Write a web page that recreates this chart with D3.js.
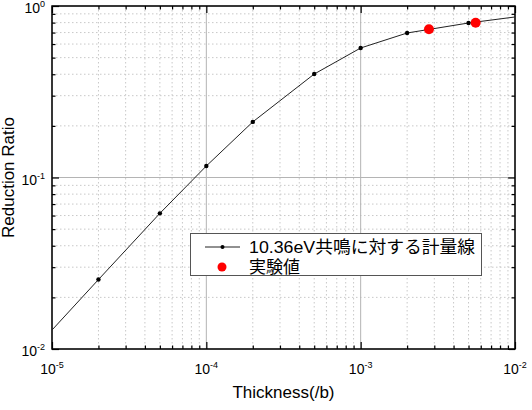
<!DOCTYPE html>
<html>
<head>
<meta charset="utf-8">
<script src="https://cdn.jsdelivr.net/npm/d3@7"></script>
<style>
html,body{margin:0;padding:0;background:#fff;}
svg{display:block;}
</style>
</head>
<body>
<svg id="chart" width="532" height="410"></svg>
<script>
// ---- data ----
const calcThickness = [1e-5, 2e-5, 5e-5, 1e-4, 2e-4, 5e-4, 1e-3, 2e-3, 5e-3, 1e-2];
const calcRatio     = [0.0129, 0.0254, 0.0618, 0.1167, 0.211, 0.401, 0.569, 0.696, 0.796, 0.863];
const expThickness  = [2.77e-3, 5.56e-3];
const expRatio      = [0.731, 0.799];
const xTickExps = [-5, -4, -3, -2];
const yTickExps = [-2, -1, 0];
const seriesNames = ["10.36eV共鳴に対する計量線", "実験値"];
const xTitle = "Thickness(/b)";
const yTitle = "Reduction Ratio";

// ---- layout ----
const L = 52, R = 515, T = 6, B = 349;
const svg = d3.select("#chart");
const x = d3.scaleLog().domain([1e-5, 1e-2]).range([L, R]);
const y = d3.scaleLog().domain([1e-2, 1]).range([B, T]);

const latin = "'Liberation Sans', Arial, sans-serif";
const cjk = "'Liberation Sans', 'Noto Sans CJK JP', sans-serif";

const xMinor = [], yMinor = [];
for (let e = -5; e < -2; e++) for (let m = 2; m <= 9; m++) xMinor.push(m * Math.pow(10, e));
for (let e = -2; e < 0; e++) for (let m = 2; m <= 9; m++) yMinor.push(m * Math.pow(10, e));
const xMajor = xTickExps.map(e => Math.pow(10, e));
const yMajor = yTickExps.map(e => Math.pow(10, e));

const grid = svg.append("g");
grid.selectAll(".xm").data(xMinor).join("line")
  .attr("x1", d => x(d)).attr("x2", d => x(d)).attr("y1", T).attr("y2", B)
  .attr("stroke", "#c8c8c8").attr("stroke-width", 1).attr("stroke-dasharray", "1.5,2.5");
grid.selectAll(".ym").data(yMinor).join("line")
  .attr("y1", d => y(d)).attr("y2", d => y(d)).attr("x1", L).attr("x2", R)
  .attr("stroke", "#c8c8c8").attr("stroke-width", 1).attr("stroke-dasharray", "1.5,2.5");
grid.selectAll(".xM").data(xMajor).join("line")
  .attr("x1", d => x(d)).attr("x2", d => x(d)).attr("y1", T).attr("y2", B)
  .attr("stroke", "#b4b4b4").attr("stroke-width", 1);
grid.selectAll(".yM").data(yMajor).join("line")
  .attr("y1", d => y(d)).attr("y2", d => y(d)).attr("x1", L).attr("x2", R)
  .attr("stroke", "#b4b4b4").attr("stroke-width", 1);

function styleAxis(g) {
  g.select(".domain").remove();
  g.selectAll(".tick line").attr("stroke", "#000").attr("stroke-width", 1.2);
  g.selectAll(".tick text").remove();
}
const allX = xMajor.concat(xMinor), allY = yMajor.concat(yMinor);
const isMajor = v => Math.abs(Math.log10(v) - Math.round(Math.log10(v))) < 1e-9;
const gb = svg.append("g").attr("transform", `translate(0,${B})`)
  .call(d3.axisBottom(x).tickValues(allX).tickSizeOuter(0)).call(styleAxis);
gb.selectAll(".tick line").attr("y2", d => isMajor(d) ? -7 : -3.5);
const gt = svg.append("g").attr("transform", `translate(0,${T})`)
  .call(d3.axisTop(x).tickValues(allX).tickSizeOuter(0)).call(styleAxis);
gt.selectAll(".tick line").attr("y2", d => isMajor(d) ? 7 : 3.5);
const gl = svg.append("g").attr("transform", `translate(${L},0)`)
  .call(d3.axisLeft(y).tickValues(allY).tickSizeOuter(0)).call(styleAxis);
gl.selectAll(".tick line").attr("x2", d => isMajor(d) ? 7 : 3.5);
const gr = svg.append("g").attr("transform", `translate(${R},0)`)
  .call(d3.axisRight(y).tickValues(allY).tickSizeOuter(0)).call(styleAxis);
gr.selectAll(".tick line").attr("x2", d => isMajor(d) ? -7 : -3.5);

svg.append("rect").attr("x", L).attr("y", T).attr("width", R - L).attr("height", B - T)
  .attr("fill", "none").attr("stroke", "#000").attr("stroke-width", 1.5);

xTickExps.forEach(e => {
  const t = svg.append("text").attr("x", x(Math.pow(10, e))).attr("y", 374)
    .attr("text-anchor", "middle").attr("font-family", latin).attr("font-size", 14);
  t.append("tspan").text("10");
  t.append("tspan").attr("dy", -6).attr("font-size", 9).text("-" + Math.abs(e));
});
yTickExps.forEach(e => {
  const t = svg.append("text").attr("x", 45).attr("y", y(Math.pow(10, e)) + 7)
    .attr("text-anchor", "end").attr("font-family", latin).attr("font-size", 14);
  t.append("tspan").text("10");
  t.append("tspan").attr("dy", -6).attr("font-size", 9).text(e === 0 ? "0" : "-" + Math.abs(e));
});

svg.append("text").attr("x", (L + R) / 2).attr("y", 398).attr("text-anchor", "middle")
  .attr("font-family", latin).attr("font-size", 17).text(xTitle);
svg.append("text").attr("transform", `translate(14,${(T + B) / 2}) rotate(-90)`)
  .attr("text-anchor", "middle").attr("font-family", latin).attr("font-size", 17).text(yTitle);

const pts = calcThickness.map((t, i) => [t, calcRatio[i]]);
svg.append("path").datum(pts)
  .attr("d", d3.line().x(d => x(d[0])).y(d => y(d[1])))
  .attr("fill", "none").attr("stroke", "#222").attr("stroke-width", 1);
svg.selectAll(".dot").data(pts.slice(1, -1)).join("circle")
  .attr("cx", d => x(d[0])).attr("cy", d => y(d[1])).attr("r", 2.2).attr("fill", "#000");

svg.selectAll(".exp").data(expThickness.map((t, i) => [t, expRatio[i]])).join("circle")
  .attr("cx", d => x(d[0])).attr("cy", d => y(d[1])).attr("r", 5).attr("fill", "#f00");

const lg = svg.append("g");
lg.append("rect").attr("x", 190.5).attr("y", 233.5).attr("width", 291).attr("height", 42)
  .attr("fill", "#fff").attr("stroke", "#555").attr("stroke-width", 1);
lg.append("line").attr("x1", 205).attr("x2", 240).attr("y1", 247).attr("y2", 247)
  .attr("stroke", "#222").attr("stroke-width", 1);
lg.append("circle").attr("cx", 222.5).attr("cy", 247).attr("r", 2).attr("fill", "#000");
lg.append("circle").attr("cx", 222).attr("cy", 267).attr("r", 4.5).attr("fill", "#f00");
lg.append("text").attr("x", 249).attr("y", 253).attr("font-family", cjk).attr("font-size", 17)
  .attr("textLength", 226).attr("lengthAdjust", "spacingAndGlyphs").text(seriesNames[0]);
lg.append("text").attr("x", 249).attr("y", 273).attr("font-family", cjk).attr("font-size", 17)
  .text(seriesNames[1]);
</script>
</body>
</html>
